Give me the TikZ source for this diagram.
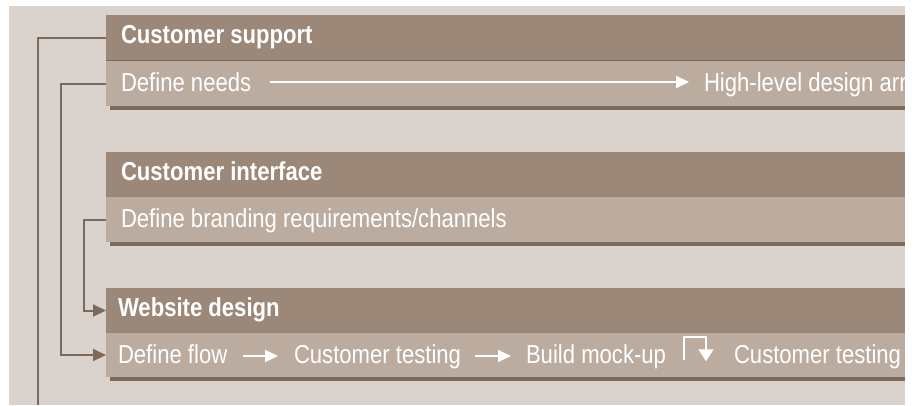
\documentclass[tikz,border=0pt]{standalone}
\usepackage{fontspec}
\setmainfont{Liberation Sans}[FakeStretch=0.85]
\usetikzlibrary{arrows.meta,calc}
\definecolor{bg}{HTML}{DAD2CC}
\definecolor{hdr}{HTML}{9C8878}
\definecolor{lite}{HTML}{BCACA0}
\definecolor{shd}{HTML}{7D6A5A}
\begin{document}
\begin{tikzpicture}[x=1pt,y=-1pt,
  hdrbox/.style={fill=hdr, draw=none, inner sep=0pt, outer sep=0pt, anchor=north west, minimum width=799pt, minimum height=45pt},
  litebox/.style={fill=lite, draw=none, inner sep=0pt, outer sep=0pt, anchor=north west, minimum width=799pt, minimum height=45pt},
  shadowbar/.style={fill=shd},
  hdrtxt/.style={text=white, inner sep=0pt, outer sep=0pt, anchor=base west, font=\fontsize{26}{30}\selectfont\bfseries},
  litetxt/.style={text=white, inner sep=0pt, outer sep=0pt, anchor=base west, font=\fontsize{26}{30}\selectfont},
  conn/.style={draw=shd, line width=2pt, line join=miter},
  connarrow/.style={conn, -{Triangle[length=13pt,width=12pt]}},
  warr/.style={draw=white, line width=2pt, -{Triangle[length=13pt,width=12pt]}},
  bentarr/.style={draw=white, line width=2pt, line join=miter, -{Triangle[length=12pt,width=15pt]}}
]
\useasboundingbox (0,0) rectangle (919,405);
\fill[bg] (9,6) rectangle (905,405);

% band 1
\node[hdrbox] (h1) at (106,15) {};
\node[litebox] (l1) at (106,61) {};
\fill[shd] (106,60) rectangle (905,61);
\fill[shadowbar] (110,106) rectangle (905,110);
% band 2
\node[hdrbox] (h2) at (106,152) {};
\node[litebox] (l2) at (106,197) {};
\fill[shadowbar] (110,242) rectangle (905,246);
% band 3
\node[hdrbox] (h3) at (106,288) {};
\node[litebox,minimum height=44pt] (l3) at (106,333) {};
\fill[shadowbar] (110,377) rectangle (905,381);

\begin{scope}
\clip (106,0) rectangle (905,405);
\node[hdrtxt] (t1) at (121,43.5) {Customer support};
\node[litetxt] (dn) at (121,91) {Define needs};
\node[litetxt] (hl) at (704,91) {High-level design arr};
\node[hdrtxt] (t2) at (121,180.5) {Customer interface};
\node[litetxt] (br) at (121,227) {Define branding requirements/channels};
\node[hdrtxt] (t3) at (118,316.5) {Website design};
\node[litetxt] (df) at (118,363) {Define flow};
\node[litetxt] (ct1) at (294,363) {Customer testing};
\node[litetxt] (bm) at (526,363) {Build mock-up};
\node[litetxt] (ct2) at (734,363) {Customer testing};
\end{scope}

% white arrows inside the bands
\draw[warr] ($(dn.east |- l1.center)+(19,-1.5)$) -- ($(hl.west |- l1.center)+(-15,-1.5)$);
\draw[warr] ($(df.east |- l3.center)+(16,1)$) -- ($(ct1.west |- l3.center)+(-16,1)$);
\draw[warr] ($(ct1.east |- l3.center)+(14,1)$) -- ($(bm.west |- l3.center)+(-15,1)$);
\coordinate (b0) at ($(ct2.west)+(-50,4)$);
\coordinate (b1) at ($(ct2.west)+(-28,-19)$);
\coordinate (b2) at ($(ct2.west)+(-28,5)$);
\draw[bentarr] (b0) |- (b1) -- (b2);

% connectors on the left
\coordinate (e1) at (38,405);
\draw[conn] (h1.west) -| (e1);
\draw[connarrow] (l1.west) -- ++(-45,0) |- (l3.west);
\draw[connarrow] (l2.west) -- ++(-22,0) |- (h3.west);
\end{tikzpicture}
\end{document}
